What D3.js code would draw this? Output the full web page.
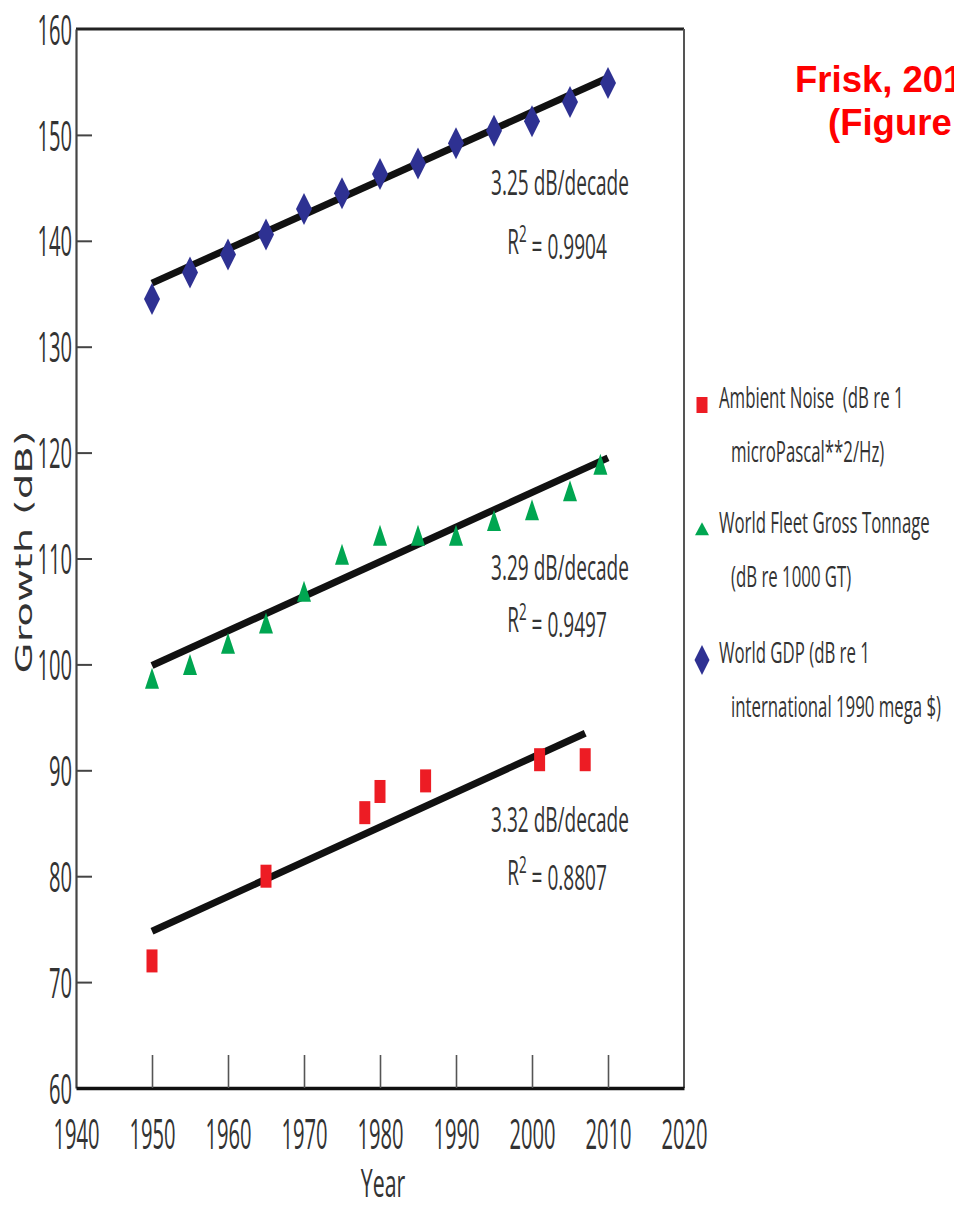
<!DOCTYPE html>
<html>
<head>
<meta charset="utf-8">
<script src="https://cdn.jsdelivr.net/npm/d3@7"></script>
<style>
body { margin: 0; background: #fff; }
svg { display: block; }
</style>
</head>
<body>
<div id="vis"></div>
<script>
// data
var gdpYears = [1950, 1955, 1960, 1965, 1970, 1975, 1980, 1985, 1990, 1995, 2000, 2005, 2010];
var gdpValues = [134.5, 137.0, 138.7, 140.6, 143.0, 144.5, 146.3, 147.3, 149.2, 150.4, 151.3, 153.1, 154.9];

var fleetYears = [1950, 1955, 1960, 1965, 1970, 1975, 1980, 1985, 1990, 1995, 2000, 2005, 2009];
var fleetValues = [98.5, 99.8, 101.8, 103.7, 106.7, 110.2, 112.0, 112.0, 112.0, 113.4, 114.4, 116.2, 118.7];

var noiseYears = [1950, 1965, 1978, 1980, 1986, 2001, 2007];
var noiseValues = [72, 80, 86, 88, 89, 91, 91];

// trend lines (start / end)
var gdpFitYears = [1950, 2010];
var gdpFit = [136.0, 155.4];
var fleetFitYears = [1950, 2010];
var fleetFit = [99.9, 119.5];
var noiseFitYears = [1950, 2007];
var noiseFit = [74.8, 93.5];

var rateLabels = ["3.25 dB/decade", "3.29 dB/decade", "3.32 dB/decade"];
var r2Labels = ["0.9904", "0.9497", "0.8807"];

var legendLabels = [
    ["Ambient Noise  (dB re 1", "microPascal**2/Hz)"],
    ["World Fleet Gross Tonnage", "(dB re 1000 GT)"],
    ["World GDP (dB re 1", "international 1990 mega $)"]
];

var xTicks = [1940, 1950, 1960, 1970, 1980, 1990, 2000, 2010, 2020];
var yTicks = [60, 70, 80, 90, 100, 110, 120, 130, 140, 150, 160];

var width = 954;
var height = 1205;

var red = "#ed1c24";
var green = "#00a651";
var blue = "#2e3192";
var ink = "#333";
var font = "'Open Sans', sans-serif";

var svg = d3.select("#vis")
    .append("svg")
    .attr("width", width)
    .attr("height", height);

var plotLeft = 76, plotRight = 684, plotTop = 29, plotBottom = 1088;

var xscale = d3.scaleLinear()
    .domain([1940, 2020])
    .range([plotLeft, plotRight]);

var yscale = d3.scaleLinear()
    .domain([60, 160])
    .range([plotBottom, plotTop]);

// condensed text helper
function ctext(g, x, y, str, size, sx, anchor) {
    return g.append("text")
        .attr("transform", "translate(" + x + "," + y + ") scale(" + sx + ",1)")
        .attr("text-anchor", anchor || "start")
        .style("font-family", font)
        .style("font-size", size + "px")
        .style("white-space", "pre")
        .attr("fill", ink)
        .text(str);
}

// top and right frame
svg.append("line")
    .attr("x1", plotLeft).attr("x2", plotRight)
    .attr("y1", plotTop).attr("y2", plotTop)
    .attr("stroke", "#222").attr("stroke-width", 3);
svg.append("line")
    .attr("x1", plotRight).attr("x2", plotRight)
    .attr("y1", plotTop).attr("y2", plotBottom)
    .attr("stroke", "#555").attr("stroke-width", 2);

// y axis
var yaxis = d3.axisLeft(yscale)
    .tickValues(yTicks)
    .tickSizeInner(-16)
    .tickSizeOuter(0)
    .tickPadding(4)
    .tickFormat(d3.format("d"));

var gy = svg.append("g")
    .attr("transform", "translate(" + plotLeft + ",0)")
    .call(yaxis);
gy.select(".domain").attr("stroke", "#444").attr("stroke-width", 2.2);
gy.selectAll(".tick line")
    .attr("stroke", "#444").attr("stroke-width", 2)
    .attr("opacity", function (d) { return (d === 60 || d === 160) ? 0 : 1; });
gy.selectAll(".tick text")
    .attr("x", null)
    .attr("dy", "0.36em")
    .attr("transform", "translate(-4,0) scale(0.48,1)")
    .style("font-family", font)
    .style("font-size", "42px")
    .attr("fill", ink);

// x axis
var xaxis = d3.axisBottom(xscale)
    .tickValues(xTicks)
    .tickSizeInner(-33)
    .tickSizeOuter(0)
    .tickPadding(0)
    .tickFormat(d3.format("d"));

var gx = svg.append("g")
    .attr("transform", "translate(0," + plotBottom + ")")
    .call(xaxis);
gx.select(".domain").attr("stroke", "#111").attr("stroke-width", 3.5);
gx.selectAll(".tick line")
    .attr("stroke", "#555").attr("stroke-width", 1.6)
    .attr("opacity", function (d) { return (d === 1940 || d === 2020) ? 0 : 1; });
gx.selectAll(".tick text")
    .attr("y", null)
    .attr("dy", null)
    .attr("transform", "translate(0,61) scale(0.48,1)")
    .style("font-family", font)
    .style("font-size", "42px")
    .attr("fill", ink);

// axis titles
ctext(svg, xscale(1980) + 3, 1197, "Year", 38, 0.56, "middle");

svg.append("text")
    .attr("transform", "translate(32,552) rotate(-90) scale(1.75,1)")
    .attr("text-anchor", "middle")
    .style("font-family", "'DejaVu Sans', Verdana, sans-serif")
    .style("font-size", "23px")
    .attr("fill", "#333")
    .text("Growth (dB)");

// trend lines
var line = d3.line()
    .x(function (d) { return xscale(d[0]); })
    .y(function (d) { return yscale(d[1]); });

[[gdpFitYears, gdpFit], [fleetFitYears, fleetFit], [noiseFitYears, noiseFit]].forEach(function (f) {
    svg.append("path")
        .datum(d3.zip(f[0], f[1]))
        .attr("d", line)
        .attr("fill", "none")
        .attr("stroke", "#111")
        .attr("stroke-width", 7);
});

// markers
function diamond(w, h) {
    return "M0," + (-h / 2) + "L" + (w / 2) + ",0L0," + (h / 2) + "L" + (-w / 2) + ",0Z";
}
function triangle(w, h) {
    return "M0," + (-h * 0.6) + "L" + (w / 2) + "," + (h * 0.4) + "L" + (-w / 2) + "," + (h * 0.4) + "Z";
}

svg.selectAll(".noise")
    .data(d3.zip(noiseYears, noiseValues))
    .enter()
    .append("rect")
    .attr("class", "noise")
    .attr("x", function (d) { return xscale(d[0]) - 5.5; })
    .attr("y", function (d) { return yscale(d[1]) - 11.5; })
    .attr("width", 11)
    .attr("height", 23)
    .attr("fill", red);

svg.selectAll(".fleet")
    .data(d3.zip(fleetYears, fleetValues))
    .enter()
    .append("path")
    .attr("class", "fleet")
    .attr("transform", function (d) { return "translate(" + xscale(d[0]) + "," + yscale(d[1]) + ")"; })
    .attr("d", triangle(14, 21))
    .attr("fill", green);

svg.selectAll(".gdp")
    .data(d3.zip(gdpYears, gdpValues))
    .enter()
    .append("path")
    .attr("class", "gdp")
    .attr("transform", function (d) { return "translate(" + xscale(d[0]) + "," + yscale(d[1]) + ")"; })
    .attr("d", diamond(16, 32))
    .attr("fill", blue);

// fit annotations
var annY = [[195, 254], [580, 632], [832, 885]];
rateLabels.forEach(function (lab, i) {
    ctext(svg, 560, annY[i][0], lab, 34, 0.56, "middle");
    var t = ctext(svg, 557, annY[i][1], "", 34, 0.56, "middle");
    t.append("tspan").text("R");
    t.append("tspan").attr("dy", "-0.5em").style("font-size", "24px").text("2");
    t.append("tspan").attr("dy", "0.5em").text(" = " + r2Labels[i]);
});

// legend
var legendMarks = [
    function (g) { g.append("rect").attr("x", -5.5).attr("y", -8).attr("width", 11).attr("height", 16).attr("fill", red); },
    function (g) { g.append("path").attr("d", triangle(14, 13)).attr("fill", green); },
    function (g) { g.append("path").attr("d", diamond(15, 30)).attr("fill", blue); }
];
var legendY = [405, 530, 660];
legendLabels.forEach(function (lab, i) {
    var g = svg.append("g").attr("transform", "translate(702," + legendY[i] + ")");
    legendMarks[i](g);
    ctext(svg, 719, legendY[i] + 3, lab[0], 30, 0.56);
    ctext(svg, 731, legendY[i] + 57, lab[1], 30, 0.56);
});

// source note
svg.append("text")
    .attr("x", 795).attr("y", 92)
    .style("font-family", "'Liberation Sans', Arial, sans-serif")
    .style("font-weight", "bold")
    .style("font-size", "36.5px")
    .attr("fill", "#ff0000")
    .text("Frisk, 2012");
svg.append("text")
    .attr("x", 828).attr("y", 135)
    .style("font-family", "'Liberation Sans', Arial, sans-serif")
    .style("font-weight", "bold")
    .style("font-size", "36.5px")
    .attr("fill", "#ff0000")
    .text("(Figure 1)");
</script>
</body>
</html>
